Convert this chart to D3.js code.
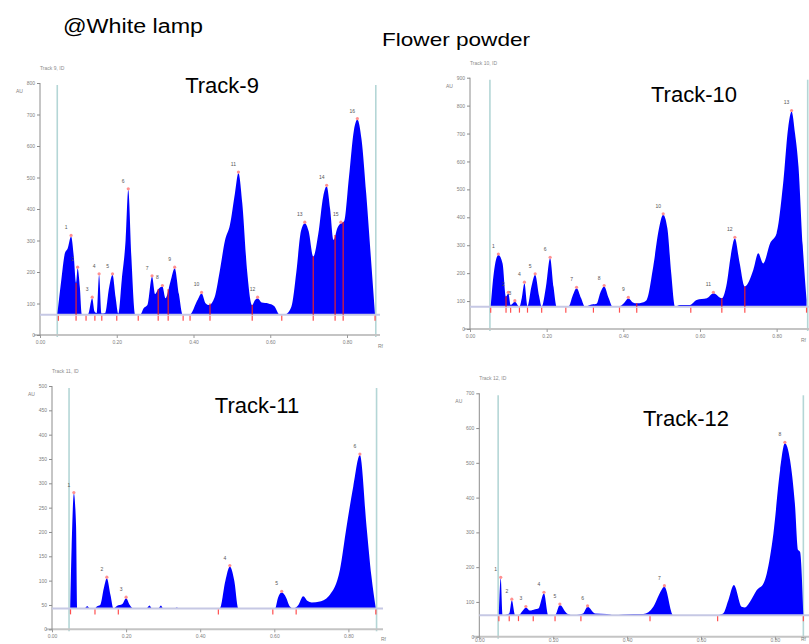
<!DOCTYPE html>
<html>
<head>
<meta charset="utf-8">
<script src="https://cdn.jsdelivr.net/npm/d3@7"></script>
<style>
  body { margin: 0; background: #fff; }
  svg { display: block; font-family: "Liberation Sans", Arial, sans-serif; }
  .tick text { fill: #808080; font-size: 5px; }
  .yax .domain, .yax .tick line { stroke: #8c8c8c; }
  .xax .domain { stroke: #c4c4c4; stroke-width: 2; }
  .xax .tick line { stroke: #9a9a9a; }
</style>
</head>
<body>
<div id="chart"></div>
<script>
// Rf ticks on every densitogram
const rfTicks = [0, 0.2, 0.4, 0.6, 0.8];

// y tick values (AU) per track
const yTicks9 = [0, 100, 200, 300, 400, 500, 600, 700, 800];
const yTicks10 = [0, 100, 200, 300, 400, 500, 600, 700, 800, 900];
const yTicks11 = [0, 50, 100, 150, 200, 250, 300, 350, 400, 450, 500];
const yTicks12 = [0, 100, 200, 300, 400, 500, 600, 700];

// baseline level (AU) and scan limits (Rf) per track
const baselines = [64, 80, 43, 62];
const scanLimits = [[0.045, 0.875], [0.052, 0.881], [0.046, 0.876], [0.051, 0.877]];

// scanned profiles: [Rf, AU]
const track9 = [
  [0.045, 64], [0.055, 170], [0.065, 260], [0.072, 275], [0.081, 313], [0.088, 250], [0.094, 165],
  [0.098, 212], [0.104, 150], [0.109, 67], [0.125, 66], [0.136, 117], [0.142, 75], [0.148, 70],
  [0.154, 191], [0.160, 68], [0.170, 70], [0.180, 150], [0.189, 191], [0.197, 120], [0.204, 68],
  [0.213, 175], [0.223, 300], [0.230, 461], [0.238, 250], [0.248, 65], [0.262, 66], [0.270, 85],
  [0.280, 95], [0.292, 185], [0.300, 130], [0.308, 145], [0.319, 154], [0.327, 117], [0.340, 170],
  [0.351, 212], [0.362, 130], [0.372, 64], [0.390, 64], [0.410, 110], [0.421, 132], [0.432, 100],
  [0.440, 95], [0.455, 120], [0.468, 200], [0.482, 300], [0.495, 350], [0.508, 450], [0.517, 514],
  [0.527, 420], [0.540, 200], [0.553, 95], [0.560, 110], [0.567, 117], [0.578, 103], [0.595, 100],
  [0.610, 92], [0.625, 64], [0.640, 66], [0.655, 90], [0.668, 200], [0.680, 330], [0.690, 355],
  [0.700, 330], [0.712, 249], [0.725, 320], [0.738, 440], [0.747, 472], [0.756, 400], [0.765, 302],
  [0.775, 340], [0.784, 355], [0.792, 360], [0.805, 500], [0.818, 650], [0.827, 684], [0.838, 620],
  [0.850, 450], [0.862, 250], [0.873, 64]
];
const track10 = [
  [0.054, 80], [0.062, 200], [0.074, 265], [0.085, 235], [0.094, 116], [0.100, 128], [0.106, 86],
  [0.117, 98], [0.129, 80], [0.135, 110], [0.142, 164], [0.150, 82], [0.160, 150], [0.170, 194],
  [0.180, 120], [0.187, 80], [0.198, 150], [0.209, 253], [0.218, 150], [0.226, 80], [0.257, 80],
  [0.268, 120], [0.278, 146], [0.290, 110], [0.300, 80], [0.313, 86], [0.330, 90], [0.340, 130],
  [0.350, 152], [0.362, 110], [0.372, 80], [0.391, 82], [0.403, 95], [0.413, 110], [0.425, 95],
  [0.435, 92], [0.450, 95], [0.461, 104], [0.478, 223], [0.493, 360], [0.504, 409], [0.515, 360],
  [0.525, 200], [0.535, 80], [0.548, 86], [0.574, 86], [0.591, 104], [0.618, 110], [0.635, 128],
  [0.657, 110], [0.670, 164], [0.680, 260], [0.691, 325], [0.703, 240], [0.717, 152], [0.739, 211],
  [0.752, 271], [0.765, 235], [0.783, 307], [0.800, 343], [0.817, 522], [0.830, 720], [0.839, 779],
  [0.848, 700], [0.857, 582], [0.868, 300], [0.878, 104]
];
const track11 = [
  [0.049, 43], [0.053, 170], [0.059, 279], [0.065, 211], [0.069, 43], [0.088, 43], [0.095, 48],
  [0.102, 43], [0.115, 43], [0.121, 47], [0.130, 50], [0.140, 85], [0.148, 105], [0.158, 70],
  [0.166, 43], [0.175, 48], [0.190, 52], [0.200, 64], [0.210, 50], [0.219, 43], [0.255, 43],
  [0.263, 49], [0.270, 43], [0.287, 43], [0.294, 49], [0.300, 43], [0.330, 43], [0.337, 45],
  [0.343, 43], [0.453, 43], [0.468, 100], [0.480, 129], [0.492, 100], [0.503, 43], [0.602, 43],
  [0.610, 65], [0.620, 76], [0.632, 65], [0.642, 47], [0.651, 43], [0.665, 50], [0.678, 68],
  [0.690, 58], [0.701, 55], [0.723, 57], [0.750, 71], [0.777, 122], [0.795, 211], [0.813, 293],
  [0.831, 358], [0.849, 211], [0.862, 110], [0.874, 43]
];
const track12 = [
  [0.053, 62], [0.058, 168], [0.063, 62], [0.081, 67], [0.088, 105], [0.097, 62], [0.106, 62],
  [0.119, 77], [0.126, 84], [0.137, 75], [0.151, 79], [0.160, 81], [0.175, 125], [0.187, 62],
  [0.205, 62], [0.218, 91], [0.237, 67], [0.254, 62], [0.281, 67], [0.293, 86], [0.313, 67],
  [0.345, 65], [0.363, 62], [0.417, 65], [0.444, 65], [0.471, 86], [0.486, 120], [0.501, 144],
  [0.525, 62], [0.588, 62], [0.642, 62], [0.660, 67], [0.674, 105], [0.689, 149], [0.710, 86],
  [0.719, 84], [0.733, 101], [0.751, 134], [0.769, 153], [0.778, 182], [0.796, 297], [0.814, 479],
  [0.827, 556], [0.841, 508], [0.854, 384], [0.863, 249], [0.868, 244], [0.877, 62]
];

// peak maxima [Rf, AU]
const peaks9 = [[0.081, 313], [0.098, 212], [0.136, 117], [0.154, 191], [0.189, 191], [0.230, 461],
  [0.292, 185], [0.319, 154], [0.351, 212], [0.421, 132], [0.517, 514], [0.567, 117], [0.690, 355],
  [0.747, 472], [0.784, 355], [0.827, 684]];
const peaks10 = [[0.074, 265], [0.100, 128], [0.117, 98], [0.142, 164], [0.170, 194], [0.209, 253],
  [0.278, 146], [0.350, 152], [0.413, 110], [0.504, 409], [0.635, 128], [0.691, 325], [0.839, 779]];
const peaks11 = [[0.059, 279], [0.148, 105], [0.200, 64], [0.480, 129], [0.620, 76], [0.831, 358]];
const peaks12 = [[0.058, 168], [0.088, 105], [0.126, 84], [0.175, 125], [0.218, 91], [0.293, 86],
  [0.501, 144], [0.827, 556]];

// peak start/end marks (Rf) and the ones drawn as split lines through the area
const cuts9 = [0.048, 0.094, 0.120, 0.143, 0.161, 0.200, 0.256, 0.308, 0.334, 0.373, 0.391, 0.443,
  0.553, 0.630, 0.712, 0.769, 0.790, 0.873];
const splits9 = [0.094, 0.308, 0.334, 0.443, 0.553, 0.712, 0.769, 0.790];
const cuts10 = [0.054, 0.094, 0.106, 0.129, 0.150, 0.187, 0.250, 0.322, 0.390, 0.435, 0.576, 0.657,
  0.717, 0.878];
const splits10 = [0.094, 0.435, 0.657, 0.717];
const cuts11 = [0.050, 0.116, 0.179, 0.449, 0.596, 0.659, 0.874];
const splits11 = [];
const cuts12 = [0.053, 0.081, 0.106, 0.146, 0.205, 0.275, 0.462, 0.645, 0.877];
const splits12 = [];

const titles = ["Track-9", "Track-10", "Track-11", "Track-12"];
const heads = ["Track 9, ID", "Track 10, ID", "Track 11, ID", "Track 12, ID"];

const panels = [
  { data: track9, peaks: peaks9, cuts: cuts9, splits: splits9, yTicks: yTicks9, yMax: 800,
    x0: 40, pxRf: 383.75, xEnd: 380, yTop: 83, yBot: 335, tx: 222, ty: 93, pad: 2 },
  { data: track10, peaks: peaks10, cuts: cuts10, splits: splits10, yTicks: yTicks10, yMax: 900,
    x0: 470, pxRf: 383.3, xEnd: 815, yTop: 77.7, yBot: 329, tx: 694, ty: 102, pad: 2 },
  { data: track11, peaks: peaks11, cuts: cuts11, splits: splits11, yTicks: yTicks11, yMax: 500,
    x0: 52, pxRf: 370.5, xEnd: 383, yTop: 386, yBot: 629.3, tx: 257, ty: 413, pad: 2 },
  { data: track12, peaks: peaks12, cuts: cuts12, splits: splits12, yTicks: yTicks12, yMax: 700,
    x0: 479.3, pxRf: 369.5, xEnd: 815, yTop: 393.3, yBot: 636.7, tx: 686, ty: 426, pad: -1 }
];

var svg = d3.select("#chart").append("svg")
  .attr("width", 809)
  .attr("height", 644);

svg.append("text")
  .text("@White lamp")
  .attr("x", 63).attr("y", 33)
  .attr("font-size", 20)
  .attr("textLength", 140).attr("lengthAdjust", "spacingAndGlyphs");

svg.append("text")
  .text("Flower powder")
  .attr("x", 382).attr("y", 46)
  .attr("font-size", 19)
  .attr("textLength", 148).attr("lengthAdjust", "spacingAndGlyphs");

panels.forEach(function(p, i) {
  var base = baselines[i];
  var x = d3.scaleLinear().domain([0, 1]).range([p.x0, p.x0 + p.pxRf]);
  var y = d3.scaleLinear().domain([0, p.yMax]).range([p.yBot, p.yTop]);
  // piecewise profile lookup, used to end the split lines on the curve
  var profile = d3.scaleLinear().domain(p.data.map(d => d[0])).range(p.data.map(d => d[1])).clamp(true);
  var g = svg.append("g");

  // scan limits
  g.selectAll(".lim")
    .data(scanLimits[i])
    .enter().append("line")
      .attr("x1", d => x(d)).attr("x2", d => x(d))
      .attr("y1", p.yTop + 2).attr("y2", p.yBot + 2)
      .attr("stroke", "#b4d6d6").attr("stroke-width", 1.6);

  // axes
  g.append("g")
    .attr("class", "xax")
    .attr("transform", "translate(0," + p.yBot + ")")
    .call(d3.axisBottom(x).tickValues(rfTicks).tickFormat(d3.format(".2f")).tickSize(3).tickPadding(p.pad))
    .select(".domain").attr("d", "M" + (p.x0 - 6) + ",0H" + p.xEnd);

  g.append("g")
    .attr("class", "yax")
    .attr("transform", "translate(" + p.x0 + ",0)")
    .call(d3.axisLeft(y).tickValues(p.yTicks).tickSize(3).tickPadding(2))
    .select(".domain").attr("d", "M0," + p.yTop + "V" + p.yBot);

  g.append("text").text("AU")
    .attr("x", p.x0 - 24).attr("y", p.yTop + 10)
    .attr("font-size", 5).attr("fill", "#808080");
  g.append("text").text("Rf")
    .attr("x", Math.min(p.xEnd - 2, 801)).attr("y", Math.min(p.yBot + 13, 641))
    .attr("font-size", 5).attr("fill", "#808080");
  g.append("text").text(heads[i])
    .attr("x", p.x0).attr("y", p.yTop - 13)
    .attr("font-size", 5).attr("fill", "#8c8c8c");

  // densitogram
  var area = d3.area()
    .x(d => x(d[0]))
    .y0(y(base))
    .y1(d => y(d[1]))
    .curve(d3.curveMonotoneX);

  g.append("path")
    .datum(p.data)
    .attr("d", area)
    .attr("fill", "#0000ff");

  // baseline
  g.append("line")
    .attr("x1", p.x0).attr("x2", p.xEnd)
    .attr("y1", y(base)).attr("y2", y(base))
    .attr("stroke", "#c6c8e4").attr("stroke-width", 2);

  // split lines through the area
  g.selectAll(".split")
    .data(p.splits)
    .enter().append("line")
      .attr("x1", d => x(d)).attr("x2", d => x(d))
      .attr("y1", y(base)).attr("y2", d => y(profile(d)))
      .attr("stroke", "#e8202a").attr("stroke-width", 1.2);

  // start/end marks
  g.selectAll(".cut")
    .data(p.cuts)
    .enter().append("line")
      .attr("x1", d => x(d)).attr("x2", d => x(d))
      .attr("y1", y(base) + 1).attr("y2", y(base) + 6)
      .attr("stroke", "#ff5050").attr("stroke-width", 1.2);

  // peak tops
  g.selectAll(".top")
    .data(p.peaks)
    .enter().append("circle")
      .attr("cx", d => x(d[0])).attr("cy", d => y(d[1]) - 1)
      .attr("r", 1.6)
      .attr("fill", "#ff9090");

  g.selectAll(".num")
    .data(p.peaks)
    .enter().append("text")
      .text((d, j) => j + 1)
      .attr("x", d => x(d[0]) - 5).attr("y", d => y(d[1]) - 7)
      .attr("text-anchor", "middle")
      .attr("font-size", 5).attr("fill", "#555");

  svg.append("text")
    .text(titles[i])
    .attr("x", p.tx).attr("y", p.ty)
    .attr("text-anchor", "middle")
    .attr("font-size", 22);
});
</script>
</body>
</html>
